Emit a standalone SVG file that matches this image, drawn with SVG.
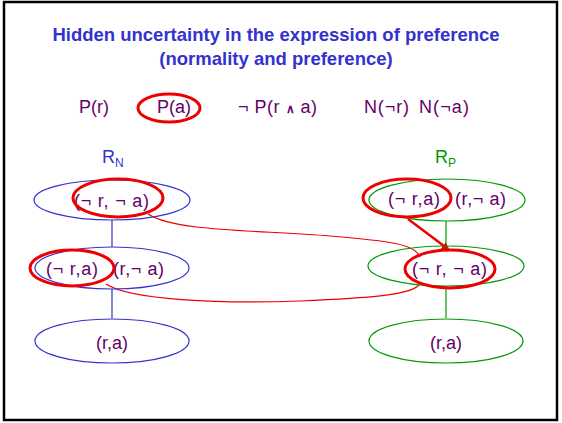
<svg xmlns="http://www.w3.org/2000/svg" width="562" height="423" viewBox="0 0 562 423">
<style>
text{font-family:"Liberation Sans",Arial,sans-serif}
.t{fill:#660066;font-size:18px}
.c{text-anchor:middle}
.bl{fill:none;stroke:#3333CC;stroke-width:1.2}
.gr{fill:none;stroke:#009900;stroke-width:1.2}
.rd{fill:none;stroke:#EE0000;stroke-width:3}
.rl{fill:none;stroke:#EE0000;stroke-width:1.2}
</style>
<defs>
<marker id="ah" markerWidth="8" markerHeight="8" refX="6" refY="4" orient="auto" markerUnits="userSpaceOnUse">
<path d="M0,0 L8,4 L0,8 Z" fill="#EE0000"/>
</marker>
</defs>
<rect x="0" y="0" width="562" height="423" fill="#fff"/>
<rect x="4" y="2" width="553" height="418" fill="none" stroke="#000" stroke-width="2.5"/>
<g id="title">
<text x="276" y="41" class="c" fill="#3333CC" font-size="18.5" font-weight="bold">Hidden uncertainty in the expression of preference</text>
<text x="276" y="65" class="c" fill="#3333CC" font-size="18.5" font-weight="bold">(normality and preference)</text>
</g>
<g id="formulas">
<text x="79" y="113" class="t">P(r)</text>
<text x="157" y="113" class="t">P(a)</text>
<ellipse cx="169" cy="108" rx="31" ry="14" class="rd" stroke-width="2.5"/>
<text x="238" y="113" class="t" textLength="79" lengthAdjust="spacing">¬ P(r <tspan font-size="12" font-weight="bold">∧</tspan> a)</text>
<text x="364" y="113" class="t" textLength="45" lengthAdjust="spacing">N(¬r)</text>
<text x="419" y="113" class="t" textLength="50" lengthAdjust="spacing">N(¬a)</text>
</g>
<g id="RN">
<text x="102" y="163" fill="#3333CC" font-size="18">R<tspan font-size="12" dy="4">N</tspan></text>
</g>
<g id="RP">
<text x="435" y="163" fill="#009900" font-size="18">R<tspan font-size="12" dy="4">P</tspan></text>
</g>
<g id="connectors">
<line x1="112" y1="220" x2="112" y2="247" class="bl"/>
<line x1="112" y1="289" x2="112" y2="318" class="bl"/>
<line x1="446" y1="221" x2="446" y2="247" class="gr"/>
<line x1="446" y1="287" x2="446" y2="318" class="gr"/>
<path d="M148,214 C175,232 260,230 330,236 C390,241 415,244 420,257" class="rl"/>
<path d="M106,284 C130,300 220,304 300,301 C370,298 410,295 419,285" class="rl"/>
<line x1="408" y1="219" x2="448" y2="249" stroke="#EE0000" stroke-width="2.5" marker-end="url(#ah)"/>
</g>
<g id="n-top">
<ellipse cx="112" cy="200" rx="78" ry="20" class="bl"/>
<text x="74" y="207" class="t" textLength="75" lengthAdjust="spacing">(¬ r, ¬ a)</text>
<ellipse cx="118" cy="198" rx="45" ry="19" class="rd"/>
</g>
<g id="n-mid">
<ellipse cx="112" cy="268" rx="77" ry="21" class="bl"/>
<text x="46" y="275" class="t" textLength="52" lengthAdjust="spacing">(¬ r,a)</text>
<text x="113" y="275" class="t" textLength="51" lengthAdjust="spacing">(r,¬ a)</text>
<ellipse cx="72" cy="268" rx="42" ry="18" class="rd"/>
</g>
<g id="n-bot">
<ellipse cx="112" cy="341" rx="77" ry="22" class="bl"/>
<text x="112" y="349" class="t c">(r,a)</text>
</g>
<g id="p-top">
<ellipse cx="447" cy="200" rx="78" ry="21" class="gr"/>
<text x="388" y="205" class="t" textLength="52" lengthAdjust="spacing">(¬ r,a)</text>
<text x="455" y="205" class="t" textLength="51" lengthAdjust="spacing">(r,¬ a)</text>
<ellipse cx="407" cy="198" rx="44" ry="19" class="rd"/>
</g>
<g id="p-mid">
<ellipse cx="446" cy="266" rx="78" ry="20" class="gr"/>
<text x="412" y="275" class="t" textLength="75" lengthAdjust="spacing">(¬ r, ¬ a)</text>
<ellipse cx="450" cy="269" rx="45" ry="19" class="rd"/>
</g>
<g id="p-bot">
<ellipse cx="446" cy="341" rx="77" ry="22" class="gr"/>
<text x="446" y="349" class="t c">(r,a)</text>
</g>
</svg>
